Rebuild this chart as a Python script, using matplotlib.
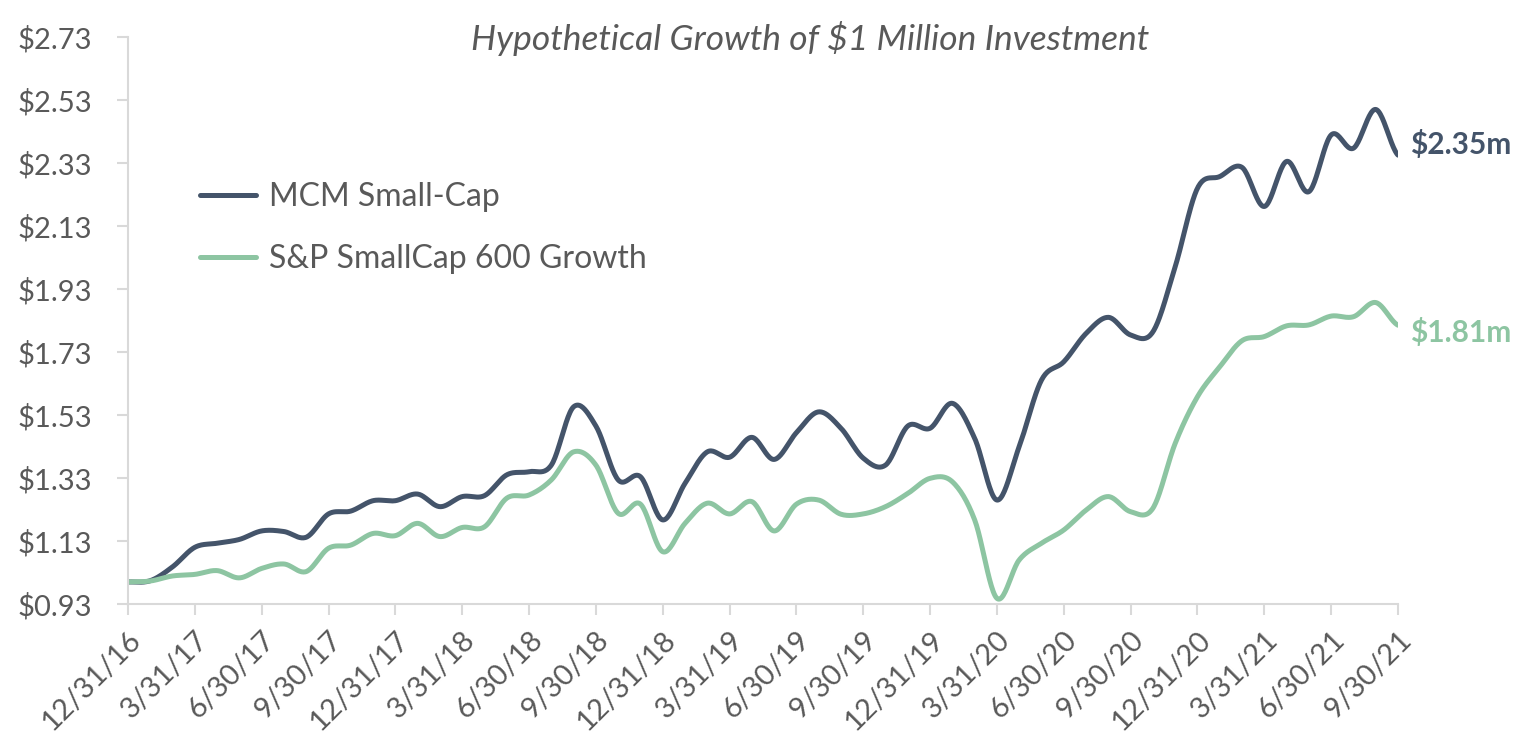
import numpy as np
import matplotlib.pyplot as plt

# quarter-end tick labels (every 3rd month)
tick_labels = ['12/31/16', '3/31/17', '6/30/17', '9/30/17', '12/31/17',
               '3/31/18', '6/30/18', '9/30/18', '12/31/18', '3/31/19',
               '6/30/19', '9/30/19', '12/31/19', '3/31/20', '6/30/20',
               '9/30/20', '12/31/20', '3/31/21', '6/30/21', '9/30/21']

# monthly growth of $1m, 12/31/16 .. 9/30/21 (in $m)
mcm = [1.00, 1.004, 1.048, 1.110, 1.123, 1.135, 1.162, 1.160, 1.142, 1.216,
       1.225, 1.258, 1.258, 1.279, 1.239, 1.271, 1.274, 1.340, 1.350, 1.371,
       1.556, 1.495, 1.324, 1.334, 1.197, 1.313, 1.413, 1.396, 1.459, 1.389,
       1.474, 1.540, 1.488, 1.393, 1.371, 1.495, 1.488, 1.567, 1.456, 1.260,
       1.430, 1.641, 1.699, 1.789, 1.840, 1.784, 1.794, 2.001, 2.250, 2.287,
       2.316, 2.192, 2.335, 2.239, 2.419, 2.377, 2.500, 2.355]

sp600 = [1.00, 1.003, 1.019, 1.024, 1.036, 1.013, 1.043, 1.057, 1.033, 1.107,
         1.117, 1.154, 1.147, 1.186, 1.144, 1.173, 1.175, 1.266, 1.276, 1.324,
         1.413, 1.371, 1.218, 1.247, 1.096, 1.186, 1.250, 1.216, 1.255, 1.162,
         1.247, 1.260, 1.215, 1.216, 1.239, 1.281, 1.329, 1.318, 1.197, 0.948,
         1.070, 1.123, 1.165, 1.228, 1.271, 1.223, 1.234, 1.440, 1.588, 1.683,
         1.766, 1.779, 1.813, 1.816, 1.844, 1.842, 1.887, 1.815]

end_labels = ['$2.35m', '$1.81m']
series_names = ['MCM Small-Cap', 'S&P SmallCap 600 Growth']

DARK = '#44546A'
GREEN = '#8DC5A2'
TEXT = '#595959'
GRID = '#D9D9D9'


def smooth(y, n=24):
    # excel-style smoothed line: cubic bezier through every point
    y = np.asarray(y, dtype=float)
    p = np.concatenate([[y[0]], y, [y[-1]]])
    xs, ys = [], []
    for i in range(len(y) - 1):
        p0, p1, p2, p3 = p[i], p[i + 1], p[i + 2], p[i + 3]
        c1 = p1 + (p2 - p0) / 6.0
        c2 = p2 - (p3 - p1) / 6.0
        t = np.linspace(0, 1, n, endpoint=False)
        b = ((1 - t) ** 3 * p1 + 3 * (1 - t) ** 2 * t * c1
             + 3 * (1 - t) * t ** 2 * c2 + t ** 3 * p2)
        xs.append(i + t)
        ys.append(b)
    xs.append([len(y) - 1])
    ys.append([y[-1]])
    return np.concatenate(xs), np.concatenate(ys)


plt.rcParams['font.family'] = ['Lato', 'DejaVu Sans']

W, H = 1513, 732
fig = plt.figure(figsize=(W / 100, H / 100), dpi=100)
ax = fig.add_axes([128 / W, 1 - 604 / H, 1270 / W, 567 / H])

for vals, col, name in [(mcm, DARK, series_names[0]), (sp600, GREEN, series_names[1])]:
    sx, sy = smooth(vals)
    ax.plot(sx, sy, color=col, lw=3.6, solid_capstyle='round', label=name)

n = len(mcm)
ax.set_xlim(0, n - 1)
ax.set_ylim(0.93, 2.73)

yt = np.arange(0.93, 2.74, 0.2)
ax.set_yticks(yt)
ax.set_yticklabels(['${:.2f}'.format(v) for v in yt])
ax.set_xticks(np.arange(0, n, 3))
ax.set_xticklabels(tick_labels, rotation=45, ha='right', rotation_mode='anchor')

for s in ['top', 'right']:
    ax.spines[s].set_visible(False)
for s in ['left', 'bottom']:
    ax.spines[s].set_color(GRID)
    ax.spines[s].set_linewidth(1.5)
ax.tick_params(axis='both', colors=GRID, length=8, width=1.5, labelcolor=TEXT, labelsize=21)
ax.tick_params(axis='y', pad=18)
ax.tick_params(axis='x', pad=8)

fig.text(810 / W, 1 - 38 / H, 'Hypothetical Growth of $1 Million Investment',
         ha='center', va='center', fontsize=25.5, style='italic', color=TEXT)

ax.legend(loc='upper left', bbox_to_anchor=(200 / W, 1 - 182 / H), bbox_transform=fig.transFigure,
          frameon=False, fontsize=23, labelcolor=TEXT, borderpad=0, borderaxespad=0,
          handlelength=1.75, handletextpad=0.4, labelspacing=1.0)

ax.annotate(end_labels[0], xy=(n - 1, mcm[-1]), xytext=(9, 8), textcoords='offset points',
            ha='left', va='center', fontsize=21.5, fontweight='bold', color=DARK,
            annotation_clip=False)
ax.annotate(end_labels[1], xy=(n - 1, sp600[-1]), xytext=(9, -5), textcoords='offset points',
            ha='left', va='center', fontsize=21.5, fontweight='bold', color=GREEN,
            annotation_clip=False)

fig.savefig('out.png', dpi=100)
